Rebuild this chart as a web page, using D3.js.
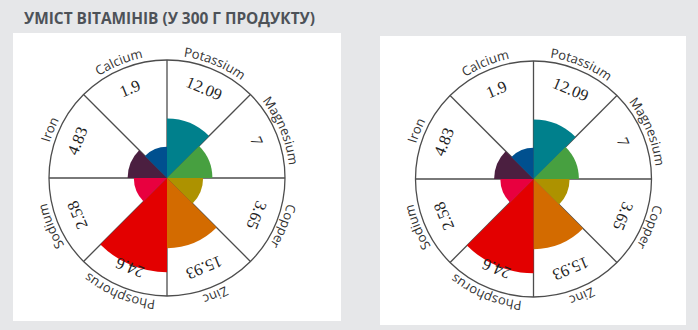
<!DOCTYPE html>
<html>
<head>
<meta charset="utf-8">
<script src="https://cdn.jsdelivr.net/npm/d3@7"></script>
<style>
  html, body { margin: 0; padding: 0; background: #e6e7e9; }
  svg { display: block; }
</style>
</head>
<body>
<svg id="chart" width="698" height="330"></svg>
<script>
// Mineral content per 300 g of product
const title = "УМІСТ ВІТАМІНІВ (У 300 Г ПРОДУКТУ)";
const nutrients = ["Potassium", "Magnesium", "Copper", "Zinc", "Phosphorus", "Sodium", "Iron", "Calcium"];
const amounts = [12.09, 7, 3.65, 15.93, 24.6, 2.58, 4.83, 1.9];
const amountLabels = ["12.09", "7", "3.65", "15.93", "24.6", "2.58", "4.83", "1.9"];
const wedgeColors = ["#00808c", "#47a040", "#ad9200", "#d36b00", "#e30000", "#e8003f", "#4b1f40", "#00508f"];

const svg = d3.select("#chart");
const W = 698, H = 330;

svg.append("rect").attr("width", W).attr("height", H).attr("fill", "#e6e7e9");

svg.append("text")
  .attr("x", 24).attr("y", 24)
  .attr("font-family", "'Open Sans', 'DejaVu Sans', sans-serif")
  .attr("font-weight", 700)
  .attr("font-size", 16)
  .attr("fill", "#4d5258")
  .attr("textLength", 291)
  .attr("lengthAdjust", "spacingAndGlyphs")
  .text(title);

const data = nutrients.map((name, i) => ({
  name, value: amounts[i], label: amountLabels[i], color: wedgeColors[i]
}));

const OUTER = 118;
const angle = d3.scaleBand().domain(nutrients).range([0, 2 * Math.PI]).padding(0);
const radius = d3.scaleLinear().domain([0, 33]).range([26, 117.5]);
const deg = a => a * 180 / Math.PI;

const wedge = d3.arc()
  .innerRadius(0)
  .outerRadius(d => radius(d.value))
  .startAngle(d => angle(d.name))
  .endAngle(d => angle(d.name) + angle.bandwidth());

let uid = 0;
function drawRose(panel) {
  svg.append("rect")
    .attr("x", panel.x).attr("y", panel.y)
    .attr("width", panel.w).attr("height", panel.h)
    .attr("fill", "#ffffff");

  const g = svg.append("g").attr("transform", `translate(${panel.cx},${panel.cy})`);

  // spokes separating the sectors
  g.selectAll("line.spoke")
    .data(data)
    .join("line")
    .attr("class", "spoke")
    .attr("x1", 0).attr("y1", 0)
    .attr("x2", d => OUTER * Math.sin(angle(d.name)))
    .attr("y2", d => -OUTER * Math.cos(angle(d.name)))
    .attr("stroke", "#4d4d4d")
    .attr("stroke-width", 1.3);

  // coloured wedges
  g.selectAll("path.wedge")
    .data(data)
    .join("path")
    .attr("class", "wedge")
    .attr("d", wedge)
    .attr("fill", d => d.color);

  // outer circle
  g.append("circle")
    .attr("r", OUTER)
    .attr("fill", "none")
    .attr("stroke", "#4d4d4d")
    .attr("stroke-width", 1.3);

  // value labels in the outer band
  g.selectAll("text.value")
    .data(data)
    .join("text")
    .attr("class", "value")
    .attr("transform", d => `rotate(${deg(angle(d.name) + angle.bandwidth() / 2)}) translate(0,-97)`)
    .attr("text-anchor", "middle")
    .attr("dominant-baseline", "central")
    .attr("font-family", "'Liberation Serif', 'Times New Roman', serif")
    .attr("font-size", 16.5)
    .attr("fill", "#1e1e1e")
    .text(d => d.label);

  // curved category names around the rim
  const R = 122.5;
  const pid = "rim" + (uid++);
  g.append("path")
    .attr("id", pid)
    .attr("d", `M0,${-R} A${R},${R} 0 1 1 0,${R} A${R},${R} 0 1 1 0,${-R}`)
    .attr("fill", "none");

  g.selectAll("text.name")
    .data(data)
    .join("text")
    .attr("class", "name")
    .attr("font-family", "'Open Sans', sans-serif")
    .attr("font-size", 13)
    .attr("fill", "#333")
    .append("textPath")
    .attr("href", "#" + pid)
    .attr("startOffset", d => ((angle(d.name) + angle.bandwidth() / 2) / (2 * Math.PI) * 100) + "%")
    .attr("text-anchor", "middle")
    .text(d => d.name);
}

drawRose({ x: 13, y: 33, w: 328, h: 288, cx: 167, cy: 178 });
drawRose({ x: 380, y: 36, w: 306, h: 289, cx: 533.5, cy: 179 });
</script>
</body>
</html>
